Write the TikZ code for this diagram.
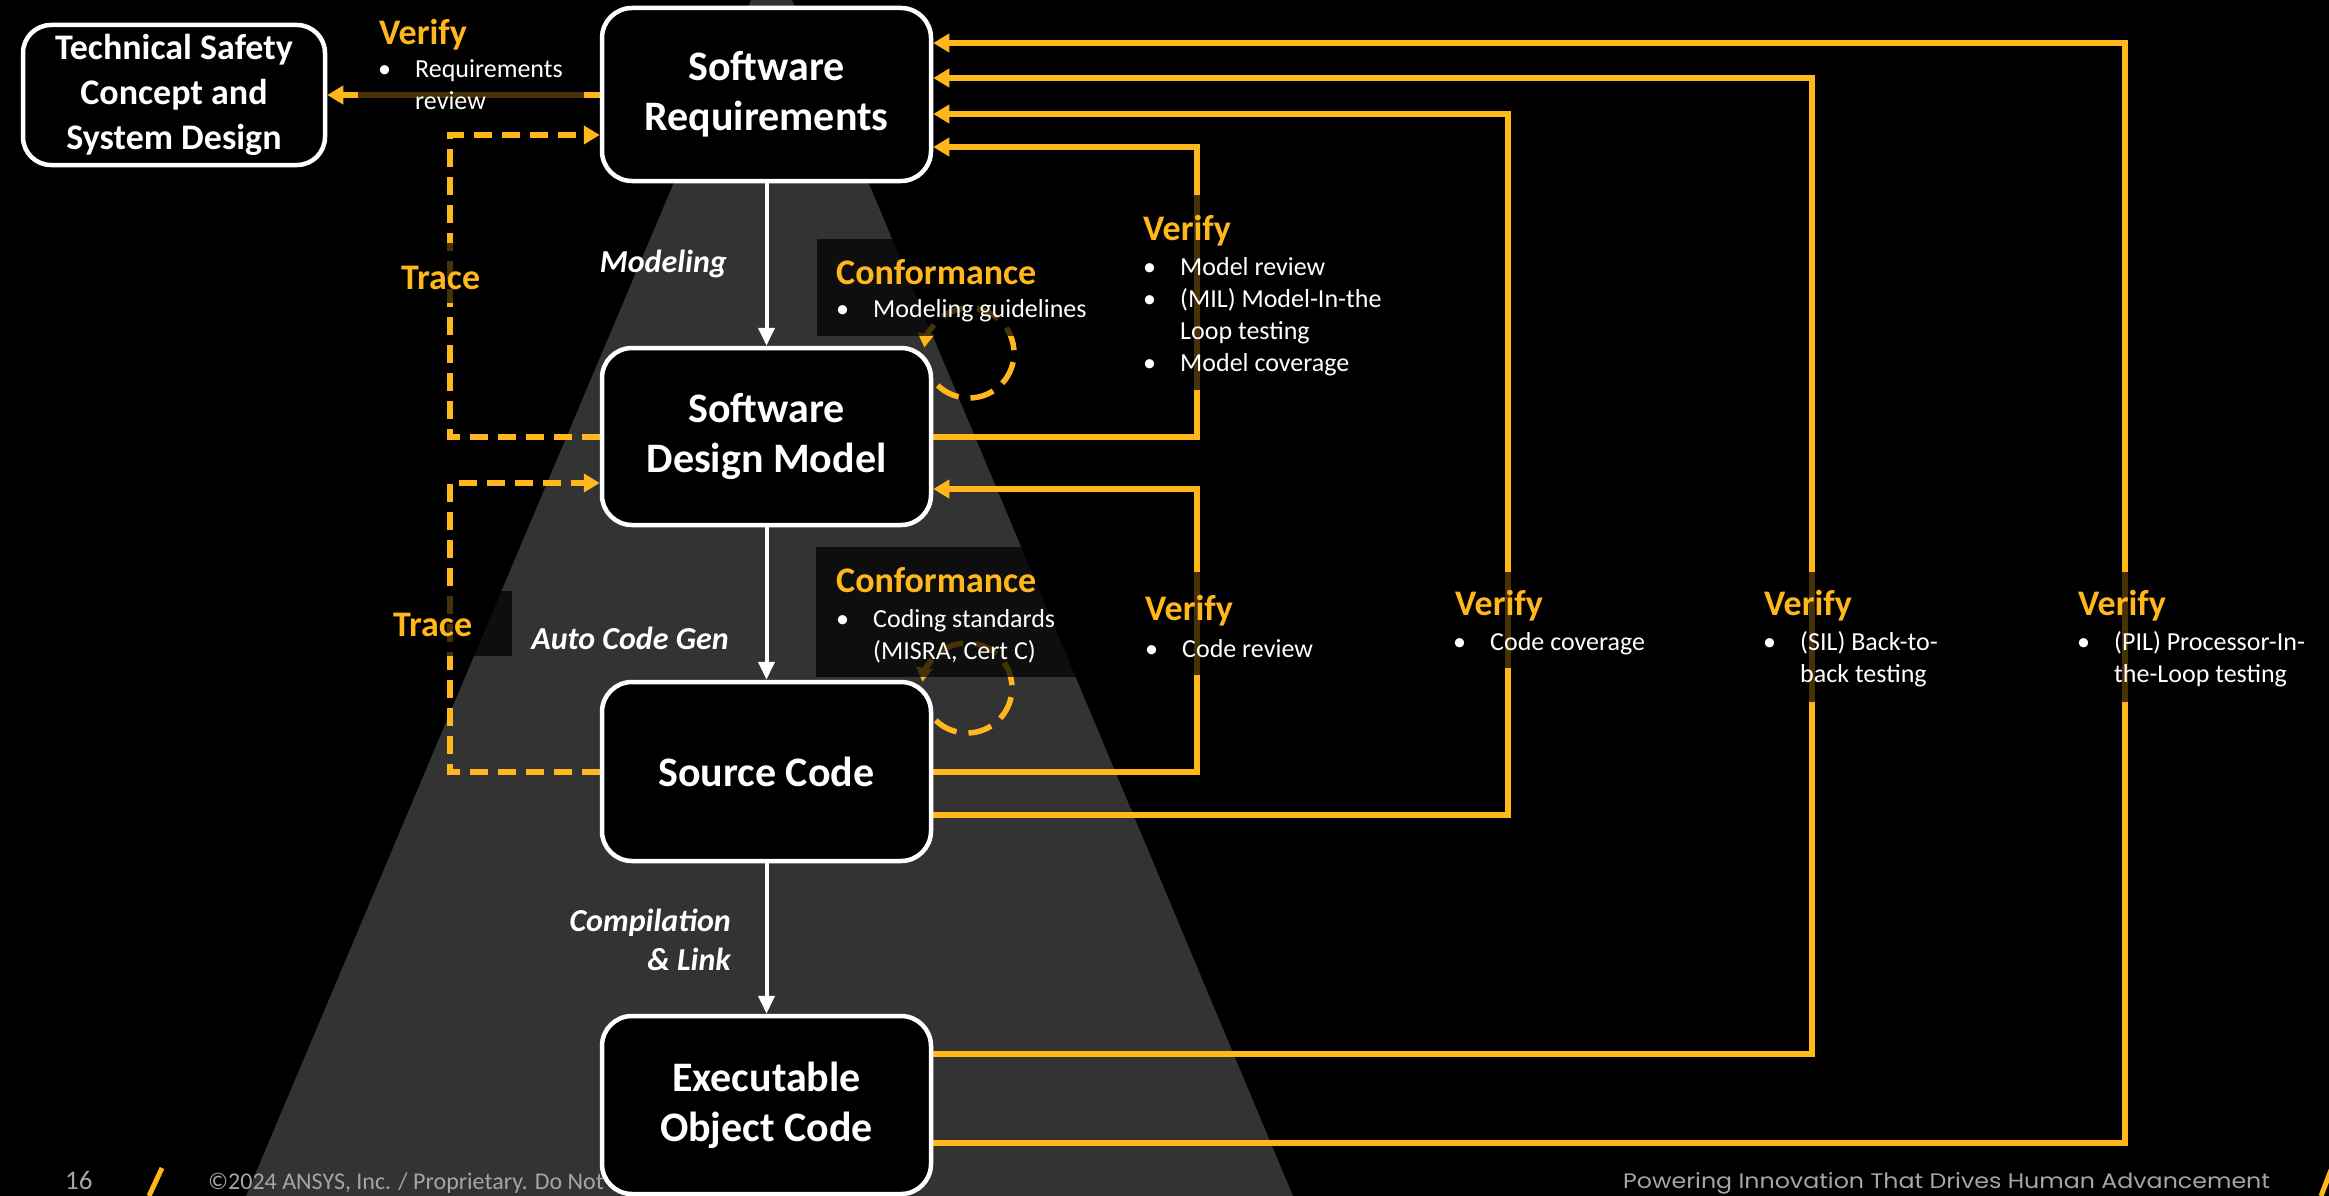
\documentclass[tikz,border=0pt]{standalone}
\usepackage{fontspec}
\setmainfont{Carlito}
\newfontfamily\footfont{Poppins}
\usetikzlibrary{arrows.meta}

\definecolor{gold}{HTML}{FFB71B}
\definecolor{cone}{HTML}{333333}
\definecolor{footgray}{HTML}{A5A5A5}

\pgfdeclarelayer{back}
\pgfdeclarelayer{links}
\pgfdeclarelayer{veil}
\pgfsetlayers{back,links,veil,main}

% bullet column of the item lists
\newcommand\bulletmark{\makebox[37pt][l]{•}}
\newcommand\indentmark{\hspace*{37pt}}

\tikzset{
  stage/.style={draw=white, line width=4.5pt, fill=black, rounded corners=30pt,
    text=white, font=\fontsize{42}{50}\selectfont\bfseries, align=center,
    inner sep=0pt, minimum width=329pt},
  link/.style={draw=gold, line width=6pt, -{Triangle[length=16pt,width=18pt]}},
  tracelink/.style={link, dash pattern=on 18pt off 10pt},
  flow/.style={draw=white, line width=4pt, -{Triangle[length=18pt,width=16pt]}},
  selfloop/.style={draw=gold, line width=5.5pt, dash pattern=on 24pt off 12pt,
    -{Triangle[length=14pt,width=16pt]}},
  shade/.style={fill=black, opacity=0.72},
  heading/.style={text=gold, font=\fontsize{36}{43}\selectfont\bfseries,
    inner sep=0pt, anchor=base west},
  activity/.style={text=white, font=\fontsize{32}{39}\selectfont\bfseries\itshape,
    inner sep=0pt, anchor=base east},
  itemlist/.style={text=white, font=\fontsize{26}{32}\selectfont,
    inner sep=0pt, anchor=base west},
  footer/.style={text=footgray, inner sep=0pt, anchor=base west}
}

\begin{document}
\begin{tikzpicture}[x=1pt,y=-1pt]
\useasboundingbox (0,0) rectangle (2329,1196);

% ---------- backdrop ----------
\begin{pgfonlayer}{back}
  \fill[black] (0,0) rectangle (2329,1196);
  \fill[cone] (751,0) -- (792,0) -- (1293,1196) -- (246,1196) -- cycle;
  \node[footer, font=\fontsize{27}{32}\selectfont] (pagenum) at (65,1189) {16};
  \draw[gold, line width=5pt] (162,1168) -- (149,1196);
  \node[footer, font=\fontsize{24}{29}\selectfont] (copyright) at (208,1189)
    {©2024 ANSYS, Inc. / Proprietary. Do Not};
  \node[footer, font=\footfont\fontsize{21}{25}\selectfont] (slogan) at (1623,1188)
    {\scalebox{1.13}[1]{Powering Innovation That Drives Human Advancement}};
  \draw[gold, line width=5pt] (2331,1170) -- (2321,1196);
\end{pgfonlayer}

% ---------- work products ----------
\node[stage, minimum height=173pt] (sr) at (766.5,94.5) {Software\\Requirements};
\node[stage, minimum height=177pt] (sdm) at (766.5,436.5) {Software\\Design Model};
\node[stage, minimum height=179pt] (sc) at (766.5,771.5) {Source Code};
\node[stage, minimum height=178pt] (exec) at (766.5,1105) {Executable\\Object Code};
\node[stage, minimum width=302pt, minimum height=140pt, rounded corners=28pt,
  font=\fontsize{36}{45}\selectfont\bfseries] (tsc) at (174,95)
  {Technical Safety\\Concept and\\System Design};

% ---------- development flow ----------
\draw[flow] (sr.south) -- (sdm.north);
\draw[flow] (sdm.south) -- (sc.north);
\draw[flow] (sc.south) -- (exec.north);

% ---------- verification and trace links ----------
\begin{pgfonlayer}{links}
  \draw[link] (sr.west |- 0,95) -- (tsc.east |- 0,95);
  \draw[tracelink] (sdm.west |- 0,437) -| (450,135) -- (sr.west |- 0,135);
  \draw[tracelink] (sc.west |- 0,772) -| (450,483) -- (sdm.west |- 0,483);
  \draw[link] (sdm.east |- 0,437) -| (1197,147) -- (sr.east |- 0,147);
  \draw[link] (sc.east |- 0,772) -| (1197,489) -- (sdm.east |- 0,489);
  \draw[link] (sc.east |- 0,815) -| (1508,114) -- (sr.east |- 0,114);
  \draw[link] (exec.east |- 0,1054) -| (1812,78) -- (sr.east |- 0,78);
  \draw[link] (exec.east |- 0,1143) -| (2125,43) -- (sr.east |- 0,43);
  % conformance self-checks
  \draw[selfloop] (969,353) ++(134:45) arc[start angle=134, end angle=-173, radius=45];
  \draw[selfloop] (967,688) ++(134:45) arc[start angle=134, end angle=-172, radius=45];
\end{pgfonlayer}

% ---------- label backings ----------
\begin{pgfonlayer}{veil}
  \fill[shade] (358,8) rectangle (584,122);
  \fill[shade] (390,243) rectangle (512,303);
  \fill[shade] (390,591) rectangle (512,656);
  \fill[shade] (817,239) rectangle (1115,336);
  \fill[shade] (816,547) rectangle (1115,677);
  \fill[shade] (1135,195) rectangle (1420,390);
  \fill[shade] (1135,572) rectangle (1340,675);
  \fill[shade] (1445,572) rectangle (1680,668);
  \fill[shade] (1755,572) rectangle (1960,702);
  \fill[shade] (2070,572) rectangle (2320,702);
\end{pgfonlayer}

% ---------- labels ----------
\node[heading] (vreq) at (379,45) {Verify};
\node[itemlist] (vreqitems) at (378,78)
  {\begin{tabular}[t]{@{}l@{}}\bulletmark Requirements\\\indentmark review\end{tabular}};

\node[heading] (trace1) at (401,289) {Trace};
\node[heading] (trace2) at (393,636) {Trace};

\node[activity] (modeling) at (727,272) {Modeling};
\node[activity] (autocode) at (729,649) {Auto Code Gen};
\node[activity] (compile) at (731,931)
  {\begin{tabular}[t]{@{}r@{}}Compilation\\\& Link\end{tabular}};

\node[heading] (conf1) at (836,284) {Conformance};
\node[itemlist] (conf1items) at (836,317)
  {\begin{tabular}[t]{@{}l@{}}\bulletmark Modeling guidelines\end{tabular}};
\node[heading] (conf2) at (836,592) {Conformance};
\node[itemlist] (conf2items) at (836,627)
  {\begin{tabular}[t]{@{}l@{}}\bulletmark Coding standards\\\indentmark (MISRA, Cert C)\end{tabular}};

\node[heading] (vmodel) at (1143,240) {Verify};
\node[itemlist] (vmodelitems) at (1143,275)
  {\begin{tabular}[t]{@{}l@{}}\bulletmark Model review\\\bulletmark (MIL) Model-In-the\\\indentmark Loop testing\\\bulletmark Model coverage\end{tabular}};

\node[heading] (vcode) at (1145,620) {Verify};
\node[itemlist] (vcodeitems) at (1145,657)
  {\begin{tabular}[t]{@{}l@{}}\bulletmark Code review\end{tabular}};

\node[heading] (vcov) at (1455,615) {Verify};
\node[itemlist] (vcovitems) at (1453,650)
  {\begin{tabular}[t]{@{}l@{}}\bulletmark Code coverage\end{tabular}};

\node[heading] (vsil) at (1764,615) {Verify};
\node[itemlist] (vsilitems) at (1763,650)
  {\begin{tabular}[t]{@{}l@{}}\bulletmark (SIL) Back-to-\\\indentmark back testing\end{tabular}};

\node[heading] (vpil) at (2078,615) {Verify};
\node[itemlist] (vpilitems) at (2077,650)
  {\begin{tabular}[t]{@{}l@{}}\bulletmark (PIL) Processor-In-\\\indentmark the-Loop testing\end{tabular}};
\end{tikzpicture}
\end{document}
